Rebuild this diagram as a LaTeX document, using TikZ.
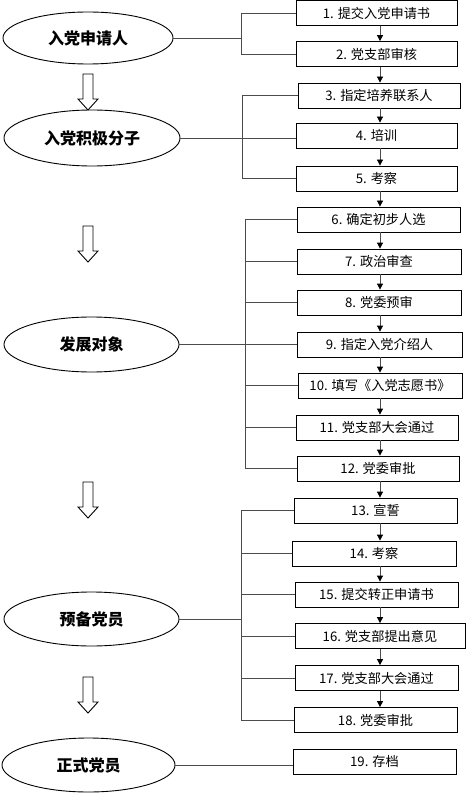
\documentclass[tikz,border=0pt]{standalone}
\usepackage{fontspec}
\setmainfont{Noto Sans CJK SC}
\usetikzlibrary{arrows.meta,shapes.geometric}
\begin{document}
\begin{tikzpicture}[x=1pt,y=-1pt,
  stepbox/.style={draw=black,line width=0.8pt,minimum height=25pt,inner sep=0pt,font=\fontsize{13.2}{15}\selectfont},
  stage/.style={draw=black,line width=0.9pt,ellipse,inner sep=0pt,font=\bfseries\fontsize{16}{18}\selectfont},
  link/.style={draw=black!70,line width=0.8pt},
  flow/.style={draw=black!70,line width=0.8pt,-{Triangle[length=6pt,width=6pt,color=black]}},
  hollow/.style={draw=black,line width=0.9pt,fill=white},
  hollowdown/.pic={\draw[hollow] (-5,0) -- (5,0) -- (5,25) -- (10,25) -- (0,36) -- (-10,25) -- (-5,25) -- cycle;}]
\useasboundingbox (0,0) rectangle (466,794);

% stages
\node[stage,minimum width=170pt,minimum height=52pt] (e1) at (88,38) {入党申请人};
\node[stage,minimum width=176pt,minimum height=56pt] (e2) at (92,138) {入党积极分子};
\node[stage,minimum width=175pt,minimum height=55pt] (e3) at (91.5,344.5) {发展对象};
\node[stage,minimum width=175pt,minimum height=54pt] (e4) at (91.5,619) {预备党员};
\node[stage,minimum width=173pt,minimum height=54pt] (e5) at (88.5,765) {正式党员};

% hollow arrows
\pic at (88,74) {hollowdown};
\pic at (88,226) {hollowdown};
\pic at (88,482) {hollowdown};
\pic at (88,677) {hollowdown};

% steps
\node[stepbox,minimum width=161pt] (b1) at (376.5,13) {1. 提交入党申请书};
\node[stepbox,minimum width=161pt] (b2) at (376.5,54) {2. 党支部审核};
\node[stepbox,minimum width=162pt] (b3) at (379,95.5) {3. 指定培养联系人};
\node[stepbox,minimum width=161pt] (b4) at (376.5,135.5) {4. 培训};
\node[stepbox,minimum width=161pt] (b5) at (376.5,178.5) {5. 考察};
\node[stepbox,minimum width=163pt] (b6) at (378.5,219.5) {6. 确定初步人选};
\node[stepbox,minimum width=164pt] (b7) at (379,261.5) {7. 政治审查};
\node[stepbox,minimum width=164pt] (b8) at (379,302.5) {8. 党委预审};
\node[stepbox,minimum width=165pt] (b9) at (379.5,344.5) {9. 指定入党介绍人};
\node[stepbox,minimum width=164pt] (b10) at (380,385.5) {10. 填写《入党志愿书》};
\node[stepbox,minimum width=162pt] (b11) at (377,427.5) {11. 党支部大会通过};
\node[stepbox,minimum width=162pt] (b12) at (378,468.5) {12. 党委审批};
\node[stepbox,minimum width=163pt] (b13) at (375.5,510.5) {13. 宣誓};
\node[stepbox,minimum width=164pt] (b14) at (374,553.5) {14. 考察};
\node[stepbox,minimum width=163pt] (b15) at (376.5,594.5) {15. 提交转正申请书};
\node[stepbox,minimum width=170pt] (b16) at (380,636) {16. 党支部提出意见};
\node[stepbox,minimum width=163pt] (b17) at (376.5,678) {17. 党支部大会通过};
\node[stepbox,minimum width=163pt] (b18) at (375.5,720) {18. 党委审批};
\node[stepbox,minimum width=163pt] (b19) at (374.5,761.5) {19. 存档};

% flow arrows between steps
\coordinate (ax) at (380,0);
\foreach \a/\b in {b1/b2,b2/b3,b3/b4,b4/b5,b5/b6,b6/b7,b7/b8,b8/b9,b9/b10,b10/b11,b11/b12,b12/b13,b13/b14,b14/b15,b15/b16,b16/b17,b17/b18}
  \draw[flow] (\a.south -| ax) -- (\b.north -| ax);

% group 1
\coordinate (v1) at (241,0);
\draw[link] (b1.west) -- (b1.west -| v1) -- (b2.west -| v1) -- (b2.west);
\draw[link] (e1.east) -- (e1.east -| v1);

% group 2
\coordinate (v2) at (242,0);
\draw[link] (b3.west) -- (b3.west -| v2) -- (b5.west -| v2) -- (b5.west);
\draw[link] (e2.east) -- (e2.east -| b4.west);

% group 3
\coordinate (v3) at (245,0);
\draw[link] (b6.west -| v3) -- (b12.west -| v3);
\foreach \n in {b6,b7,b8,b10,b11,b12}
  \draw[link] (\n.west -| v3) -- (\n.west);
\draw[link] (e3.east) -- (e3.east -| b9.west);

% group 4
\coordinate (v4) at (241,0);
\draw[link] (b13.west -| v4) -- (b18.west -| v4);
\foreach \n in {b13,b14,b15,b16,b17,b18}
  \draw[link] (\n.west -| v4) -- (\n.west);
\draw[link] (e4.east) -- (e4.east -| v4);

% final
\draw[link] (e5.east) -- (e5.east -| b19.west);
\end{tikzpicture}
\end{document}
